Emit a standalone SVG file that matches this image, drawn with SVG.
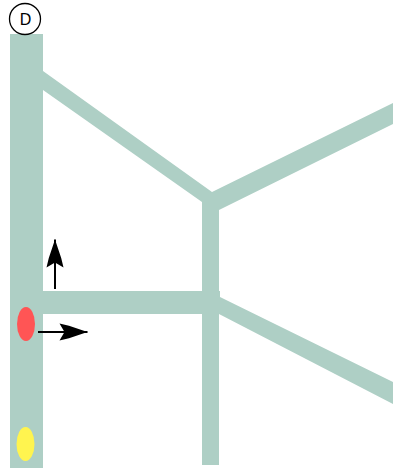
<svg xmlns="http://www.w3.org/2000/svg" width="393" height="470" viewBox="0 0 393 470">
<style>
.track{fill:#aecfc5;stroke:none}
.arrow{stroke:#000;stroke-width:2;fill:none}
.head{fill:#000;stroke:none}
.label{font-family:"Liberation Sans",Arial,sans-serif;font-size:16px;fill:#000;text-anchor:middle}
</style>
<defs>
<marker id="ah" markerUnits="userSpaceOnUse" markerWidth="30" markerHeight="18" refX="28.500" refY="9" orient="auto">
<path class="head" d="M28.500 9 L10 2.800 L0.500 0.500 L5.500 9 L0.500 17.500 L10 15.200 Z"/>
</marker>
</defs>
<rect width="393" height="470" fill="#fff"/>
<g id="tracks">
<rect class="track" x="10" y="34" width="33" height="434"/>
<polygon class="track" points="43,71 212,192 393,103 393,124 219,210 202,202 43,90"/>
<rect class="track" x="202" y="202" width="17" height="263"/>
<polygon class="track" points="43,291 220,291 220,297 393,382 393,404 219,314 43,314"/>
</g>
<g id="node-d">
<circle cx="25" cy="19" r="15.500" fill="#fff" stroke="#000" stroke-width="1.300"/>
<text class="label" x="25.500" y="24.500">D</text>
</g>
<g id="signal-red"><ellipse cx="26" cy="324" rx="9" ry="17" fill="#ff5555"/></g>
<g id="signal-yellow"><ellipse cx="25.500" cy="444" rx="9" ry="17" fill="#fff44f"/></g>
<g id="connectors">
<line class="arrow" x1="55" y1="289" x2="55" y2="239.500" marker-end="url(#ah)"/>
<line class="arrow" x1="38" y1="332" x2="87.500" y2="332" marker-end="url(#ah)"/>
</g>
</svg>
